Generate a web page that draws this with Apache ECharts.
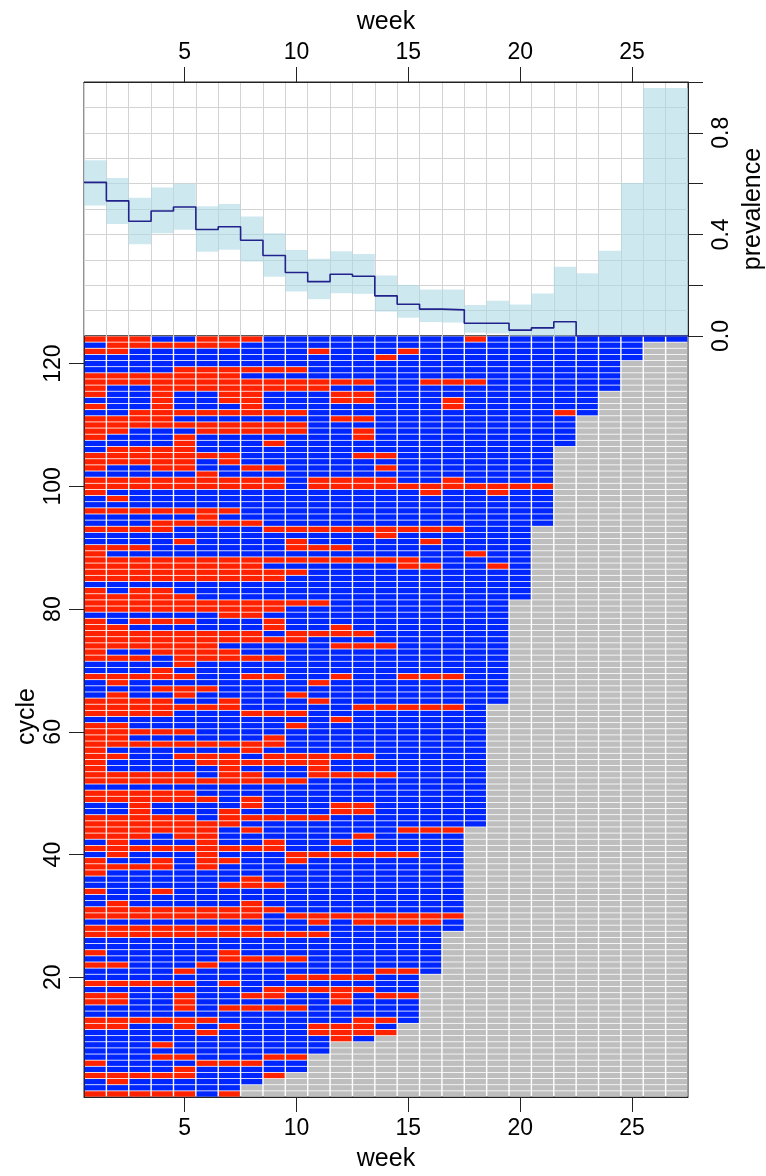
<!DOCTYPE html>
<html>
<head>
<meta charset="utf-8">
<script src="https://cdn.jsdelivr.net/npm/echarts@6/dist/echarts.min.js"></script>
<style>
  html, body { margin: 0; padding: 0; background: #fff; }
  #chart { width: 766px; height: 1176px; }
</style>
</head>
<body>
<div id="chart"></div>
<script>
const weeks = [1, 2, 3, 4, 5, 6, 7, 8, 9, 10, 11, 12, 13, 14, 15, 16, 17, 18, 19, 20, 21, 22, 23, 24, 25, 26, 27];

// prevalence per week with its interval (top panel)
const prevalence = [0.605, 0.532, 0.452, 0.492, 0.508, 0.419, 0.430, 0.377, 0.317, 0.250, 0.214, 0.243, 0.235, 0.158,
  0.125, 0.106, 0.103, 0.050, 0.050, 0.023, 0.032, 0.056, 0, 0, 0, 0, 0];
const prevLower = [0.514, 0.441, 0.361, 0.405, 0.418, 0.332, 0.340, 0.293, 0.233, 0.175, 0.145, 0.168, 0.166, 0.096,
  0.072, 0.055, 0.053, 0.013, 0.010, 0.001, 0.001, 0.001, 0, 0, 0, 0, 0];
const prevUpper = [0.692, 0.622, 0.544, 0.585, 0.599, 0.511, 0.520, 0.470, 0.405, 0.339, 0.304, 0.334, 0.323, 0.238,
  0.201, 0.183, 0.183, 0.122, 0.139, 0.124, 0.167, 0.273, 0.247, 0.336, 0.602, 0.976, 0.976];

const weekTicks = [5, 10, 15, 20, 25];
const cycleTicks = [20, 40, 60, 80, 100, 120];
const prevTicks = [0, 0.2, 0.4, 0.6, 0.8, 1.0];
const prevLabels = [0, 0.4, 0.8];

// one string per cycle, top row first (cycle 124 down to cycle 1)
// R = red, B = blue, weeks grouped by five; weeks past the end are grey
const cycleStates = [
  "RRRBB RRRBB BBBBB BBRBB BBBBB BB",
  "BRRRR RRBBB BBBBB BBBBB BBBBB",
  "RRBBB BBBBB RBBBR BBBBB BBBBB",
  "BBBBB BBBBB BBBRB BBBBB BBBBB",
  "BBBBB BBBBB BBBBB BBBBB BBBB",
  "BBBBR RRRRR BBBBB BBBBB BBBB",
  "RRRRR RRBBB BBBBB BBBBB BBBB",
  "RRRRR RRRRR RRRBB RRRBB BBBB",
  "RBBRR RRRRR RBBBB BBBBB BBBB",
  "RBBRB BRRBB BRRBB BBBBB BBB",
  "BBBRB BRRBB BRRBB BRBBB BBB",
  "RBBRB BBRBB BBBBB BRBBB BBB",
  "BBRRR RRRRR BBBBB BBBBB BRB",
  "RRRRB BBBBB BRRBB BBBBB BB",
  "RRRRR RRRRR BBBBB BBBBB BB",
  "RRBBB RRRRR BBRBB BBBBB BB",
  "RBBBR BBBBB BBRBB BBBBB BB",
  "BBBBR BBBRB BBBBB BBBBB BB",
  "BRRRR BBBBB BBBBB BBBBB B",
  "RRRRR RRBBB BBRRB BBBBB B",
  "RRRRR BRBBB BBBBB BBBBB B",
  "RBBRR BBRRB BBBRB BBBBB B",
  "BBBBB RBBBB BBBBB BBBBB B",
  "RRRRR RRRRB RRRRB BRBBB B",
  "RRRRR RRRRB RRRRR RRRRR R",
  "RBBBB BBBBB BBBBB RBBRB B",
  "BRBBB BBBBB BBBBB BBBBB B",
  "BBBBB BBBBB BBBBB BBBBB B",
  "RRRRR RRBBB BBBBB BBBBB B",
  "BBBBB RBBBB BBBBB BBBBB B",
  "BBBRR RRRBB BBBBB BBBBB B",
  "RRRRB BBBRR RRRRR RRBBB",
  "BBBBB BBBBB BBBRB BBBBB",
  "BBBBR BBBBR BBBBB RBBBB",
  "RRRBB BBBBR RRBBB BBBBB",
  "RBBBB BBBBB BBBBB BBRBB",
  "RRRRR RRRRR RRRRR BBBBB",
  "RRRRR RRRBB BBBBR RBBRB",
  "RRRRR RRRRR BBBBB BBBBB",
  "RRRRR RRRRB BBBBB BBBBB",
  "BBBBB BBBBB BBBBB BBBBB",
  "RBRRB BBBBB BBBBB BBBBB",
  "RRRRR BBBBB BBBBB BBBBB",
  "RRRRR RRRRR RBBBB BBBB",
  "RRRRR RRRRB BBBBB BBBB",
  "BBBBB BRRBB BBBBB BBBB",
  "RBRRR BBBRB BBBBB BBBB",
  "RRBBB BBBRB BRBBB BBBB",
  "RRRRR RRRBR RRRBB BBBB",
  "RRRRR RRRRR BBBBB BBBB",
  "RRRRR RBBBB BRRRB BBBB",
  "RBBRR RRBBB BBBBB BBBB",
  "RRRBR RRRRB BBBBB BBBB",
  "BBBBR BBBBB BBBBB BBBB",
  "BBBRB BBBBB BBBBB BBBB",
  "RRRRR BBRRB BRBBR RRBB",
  "BRBBB BBBBB RBBBB BBBB",
  "BBBRR RBBBB BBBBB BBBB",
  "BRBBR BBBBR BBBBB BBBB",
  "RRRRB BRBBB RBBBB BBBB",
  "RRRRR RRBBB BBRRR RRB",
  "RRRRB BBRRR BBBBB BBB",
  "BBBBB BBBBB BRBBB BBB",
  "RRBBB BBBBR BBBBB BBB",
  "RRRRR BBBBB BBBBB BBB",
  "RRBBB BBBRB BBBBB BBB",
  "RRRRR RRRRB BBBBB BBB",
  "RBBBB BBRBB BBBBB BBB",
  "RRBBR RRBRR RRRBB BBB",
  "RBBBB RRRRR RBBBB BBB",
  "RBBBB BRBBB RBBBB BBB",
  "RRRRR BRRBB RRRRB BBB",
  "RRRRR RRRRR BBBBB BBB",
  "BBBBB BBBBB BBBBB BBB",
  "RRRRR BBBBB BBBBB BBB",
  "RRRRR RBRBB BBBBB BBB",
  "BBRBB BBRBB BRRBB BBB",
  "BBRBB BRBBB BRRBB BBB",
  "RRRRR BRRRR RBBBB BBB",
  "RRRRR RRBBB BBBBB BBB",
  "RRRRR RBRBB BBBBR RR",
  "RRRBR RBBBB BBRBB BB",
  "BRBBB RBBRB BRBBB BB",
  "RRRRR RRRRB BBBBB BB",
  "BRBBB RBBBR RRRRR BB",
  "RBBRB RRBBR BBBBB BB",
  "RRRRB RBBBB BBBBB BB",
  "RBBBB BBBBB BBBBB BB",
  "BBBBB BBRBB BBBBB BB",
  "BBBBB BRRRB BBBBB BB",
  "RBBRB BBBBB BBBBB BB",
  "BBBBB BBBBB BBBBB BB",
  "BRBBB BBRBB BBBBB BB",
  "RRRRR RRRRB BBBBB BB",
  "RRRRR RRRBR RRRRR RR",
  "BBBBB BBBBB RBRRR RB",
  "RRRRR RRRBB BBBBB BB",
  "RRRRR RRRRR RBBBB B",
  "BBBBB BBBBB BBBBB B",
  "BBBBB BBBBB BBBBB B",
  "RBBBB BRBBB BBBBB B",
  "BBBBB BRRRR BBBBB B",
  "RRBBB RBBBB BBBBB B",
  "BBBBR BBBBB BBBRR B",
  "BBBBB BBBBR RRRBB",
  "RRRRR BRBBB BBBBB",
  "BBBBB BBBRR RRRBB",
  "RRBBR BBRRB BRBRR",
  "RRBBR BBBBB BRBBB",
  "BBBBR BRRRR BBBBB",
  "BBBBB BBBBB BBBBB",
  "RRRRR RBBBB BBRRB",
  "RRBBR BRBBB RRRB",
  "BBBBB RBBBB RRRR",
  "BBBBB BBBBB BRB",
  "BBBRB BBBBB B",
  "BBBBB BBBBB B",
  "BBBRR BBBRR",
  "RBBBB RRRBB",
  "BBBBR BBBBB",
  "RRRRR BBBR",
  "BRBBB BBB",
  "BBBBB BB",
  "RRRRR BR"
];

const stateCode = { B: 0, R: 1, G: 2 };
const cellColors = ["#0026ff", "#ff2200", "#bebebe"];

const cells = [];
cycleStates.forEach((row, i) => {
  const states = row.replace(/ /g, "");
  const cycle = cycleStates.length - i;
  weeks.forEach((w) => {
    cells.push([w, cycle, stateCode[states[w - 1] || "G"]]);
  });
});

const bandData = weeks.map((w, i) => [w, prevLower[i], prevUpper[i]]);
const stepData = [];
weeks.forEach((w, i) => {
  stepData.push([w - 0.5, prevalence[i]]);
  stepData.push([w + 0.5, prevalence[i]]);
});

const font = "Liberation Sans, Arial, sans-serif";
const labelStyle = { color: "#000", fontSize: 23, fontFamily: font };
const nameStyle = { color: "#000", fontSize: 25, fontFamily: font };
const axisLine = { show: true, onZero: false, lineStyle: { color: "#222", width: 1 } };
const gridLineStyle = { color: "#d3d3d3", width: 1 };

const chart = echarts.init(document.getElementById("chart"));

chart.setOption({
  animation: false,
  backgroundColor: "#fff",
  grid: [
    { left: 84, right: 78, top: 82, height: 254, outerBoundsMode: "none", show: true, borderColor: "#222", borderWidth: 1 },
    { left: 84, right: 78, top: 336, height: 761, outerBoundsMode: "none", show: true, borderColor: "#222", borderWidth: 1 },
  ],
  xAxis: [
    {
      gridIndex: 0, type: "value", min: 0.5, max: 27.5, position: "top",
      name: "week", nameLocation: "middle", nameGap: 47, nameMoveOverlap: false, nameTextStyle: nameStyle,
      axisLine: axisLine,
      axisTick: { show: true, length: 15, customValues: weekTicks, lineStyle: { color: "#222" } },
      axisLabel: { ...labelStyle, margin: 18, customValues: weekTicks },
      splitLine: { show: false },
    },
    {
      // week boundaries for the grid lines of the top panel
      gridIndex: 0, type: "value", min: 0, max: 27, interval: 1, position: "bottom",
      axisLine: { show: false, onZero: false }, axisTick: { show: false }, axisLabel: { show: false },
      splitLine: { show: true, lineStyle: gridLineStyle },
    },
    {
      gridIndex: 1, type: "value", min: 0.5, max: 27.5, position: "bottom",
      name: "week", nameLocation: "middle", nameGap: 50, nameMoveOverlap: false, nameTextStyle: nameStyle,
      axisLine: axisLine,
      axisTick: { show: true, length: 15, customValues: weekTicks, lineStyle: { color: "#222" } },
      axisLabel: { ...labelStyle, margin: 20, customValues: weekTicks },
      splitLine: { show: false },
    },
  ],
  yAxis: [
    {
      gridIndex: 0, type: "value", min: 0, max: 1, position: "right",
      name: "prevalence", nameLocation: "middle", nameRotate: 90, nameGap: 53, nameMoveOverlap: false, nameTextStyle: nameStyle,
      axisLine: axisLine,
      axisTick: { show: true, length: 15, customValues: prevTicks, lineStyle: { color: "#222" } },
      axisLabel: { ...labelStyle, margin: 22, rotate: 90, customValues: prevLabels, formatter: (v) => v.toFixed(1) },
      splitLine: { show: false },
    },
    {
      gridIndex: 0, type: "value", min: 0, max: 1, interval: 0.1, position: "left",
      axisLine: { show: false, onZero: false }, axisTick: { show: false }, axisLabel: { show: false },
      splitLine: { show: true, lineStyle: gridLineStyle },
    },
    {
      gridIndex: 1, type: "value", min: 0.5, max: 124.5, position: "left",
      name: "cycle", nameLocation: "middle", nameRotate: 90, nameGap: 44, nameMoveOverlap: false, nameTextStyle: nameStyle,
      axisLine: axisLine,
      axisTick: { show: true, length: 15, customValues: cycleTicks, lineStyle: { color: "#222" } },
      axisLabel: { ...labelStyle, margin: 19, rotate: 90, customValues: cycleTicks },
      splitLine: { show: false },
    },
  ],
  series: [
    {
      name: "interval",
      type: "custom",
      xAxisIndex: 0, yAxisIndex: 0,
      z: 1,
      data: bandData,
      renderItem: (params, api) => {
        const w = api.value(0);
        const a = api.coord([w - 0.5, api.value(2)]);
        const b = api.coord([w + 0.5, api.value(1)]);
        return {
          type: "rect",
          shape: { x: a[0], y: a[1], width: b[0] - a[0], height: b[1] - a[1] },
          style: { fill: "rgba(173, 216, 230, 0.6)" },
        };
      },
    },
    {
      name: "prevalence",
      type: "line",
      xAxisIndex: 0, yAxisIndex: 0,
      z: 3,
      data: stepData,
      showSymbol: false,
      lineStyle: { color: "#22228c", width: 1.6 },
    },
    {
      name: "cycles",
      type: "custom",
      xAxisIndex: 2, yAxisIndex: 2,
      data: cells,
      renderItem: (params, api) => {
        const w = api.value(0);
        const c = api.value(1);
        const a = api.coord([w - 0.5, c + 0.5]);
        const b = api.coord([w + 0.5, c - 0.5]);
        return {
          type: "rect",
          shape: { x: a[0] + 0.7, y: a[1] + 0.4, width: b[0] - a[0] - 1.4, height: b[1] - a[1] - 0.8 },
          style: { fill: cellColors[api.value(2)] },
        };
      },
    },
  ],
});
</script>
</body>
</html>
